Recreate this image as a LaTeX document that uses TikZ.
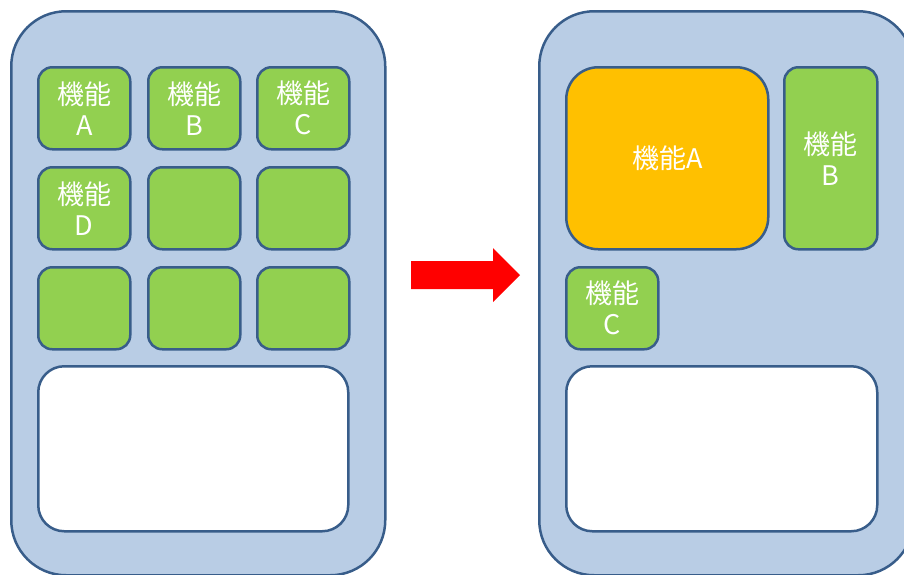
\documentclass[tikz,border=0pt]{standalone}
\usepackage{fontspec}
\newfontfamily\jpfont{Noto Sans CJK JP}
\definecolor{edgeblue}{RGB}{56,93,138}
\definecolor{phonefill}{RGB}{185,205,229}
\definecolor{funcgreen}{RGB}{146,208,80}
\definecolor{funcorange}{RGB}{255,192,0}
\begin{document}
\begin{tikzpicture}[x=1pt,y=-1pt,
  phone/.style={draw=edgeblue,line width=2.5pt,fill=phonefill,rounded corners=55pt,
    rectangle,inner sep=0pt,anchor=north west},
  func/.style={draw=edgeblue,line width=2.5pt,fill=funcgreen,rounded corners=14pt,
    rectangle,inner sep=0pt,anchor=north west,text=white,align=center,
    font=\jpfont\fontsize{27}{31}\selectfont,
    minimum width=92pt,minimum height=82pt},
  bigfunc/.style={func,fill=funcorange,rounded corners=32pt},
  screen/.style={draw=edgeblue,line width=2.5pt,fill=white,rounded corners=26pt,
    rectangle,inner sep=0pt,anchor=north west,minimum width=310pt,minimum height=165pt}
]
\useasboundingbox (0,0) rectangle (904,574);
\clip (0,0) rectangle (904,574);
% left phone
\node[phone,minimum width=374pt,minimum height=564pt] (lp) at (10,10) {};
\node[func] (la) at (37,66) {機能\\A};
\node[func] (lb) at (147,66) {機能\\B};
\node[func] (lc) at (256,66) {機能\\C};
\node[func] (ld) at (37,166) {機能\\D};
\node[func] (le) at (147,166) {};
\node[func] (lf) at (256,166) {};
\node[func] (lg) at (37,266) {};
\node[func] (lh) at (147,266) {};
\node[func] (li) at (256,266) {};
\node[screen] (ls) at (37,365) {};
% arrow
\fill[red] (411,261) -- (493,261) -- (493,248) -- (520,275) -- (493,302) -- (493,289) -- (411,289) -- cycle;
% right phone
\node[phone,minimum width=374pt,minimum height=564pt] (rp) at (538,10) {};
\node[bigfunc,minimum width=202pt,minimum height=182pt] (ra) at (565,66) {機能A};
\node[func,minimum width=93pt,minimum height=182pt] (rb) at (783,66) {機能\\B};
\node[func] (rc) at (565,266) {機能\\C};
\node[screen,minimum width=311pt] (rs) at (565,365) {};
\end{tikzpicture}
\end{document}
